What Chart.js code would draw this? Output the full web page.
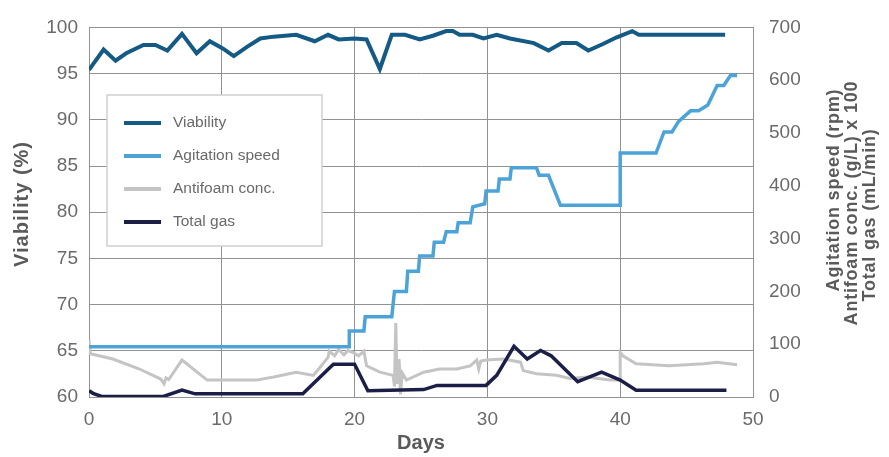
<!DOCTYPE html>
<html>
<head>
<meta charset="utf-8">
<script src="https://cdn.jsdelivr.net/npm/chart.js@4.4.1/dist/chart.umd.min.js"></script>
<style>
  html, body { margin: 0; padding: 0; background: #fff; }
  #c { display: block; }
</style>
</head>
<body>
<canvas id="c" width="889" height="457"></canvas>
<script>
// Culture run: viability (left axis) and process parameters (right axis) vs. days
const seriesNames = ['Viability', 'Agitation speed', 'Antifoam conc.', 'Total gas'];

const viabilityDays = [0, 1.1, 2.0, 2.8, 4.1, 5.0, 5.9, 7.0, 8.1, 9.1, 10.1, 10.9, 11.9, 12.9, 13.9, 15.6, 17.0, 18.0, 18.8, 20.0, 20.9, 21.9, 22.8, 23.8, 24.9, 25.9, 26.9, 27.4, 27.9, 28.9, 29.7, 30.7, 31.7, 33.5, 34.6, 35.6, 36.7, 37.6, 38.7, 39.7, 40.9, 41.4, 47.9];
const viability     = [95.4, 97.6, 96.4, 97.2, 98.1, 98.1, 97.5, 99.3, 97.2, 98.5, 97.7, 96.9, 97.9, 98.8, 99.0, 99.2, 98.5, 99.2, 98.7, 98.8, 98.7, 95.5, 99.2, 99.2, 98.7, 99.1, 99.6, 99.6, 99.2, 99.2, 98.8, 99.2, 98.8, 98.3, 97.5, 98.3, 98.3, 97.5, 98.2, 98.9, 99.6, 99.2, 99.2];

const agitationDays = [0, 19.6, 19.6, 20.7, 20.8, 22.8, 23.0, 23.9, 24.0, 24.8, 24.9, 25.9, 26.0, 26.7, 26.9, 27.7, 27.8, 28.7, 28.9, 29.8, 29.9, 30.8, 30.9, 31.7, 31.8, 33.7, 33.9, 34.6, 35.5, 40.0, 40.0, 42.7, 43.3, 43.9, 44.4, 45.3, 45.9, 46.6, 47.3, 47.8, 48.3, 48.8];
const agitation     = [95, 95, 125, 125, 152, 152, 200, 200, 238, 238, 267, 267, 293, 293, 313, 313, 330, 330, 360, 366, 390, 390, 413, 413, 434, 434, 420, 420, 363, 363, 462, 462, 502, 502, 522, 542, 542, 553, 590, 590, 609, 609];

const antifoamDays = [0, 0.1, 1.8, 3.8, 5.4, 5.65, 5.8, 6.0, 7.0, 8.9, 12.6, 13.9, 15.6, 16.9, 18.0, 18.1, 18.5, 18.8, 19.2, 19.5, 19.9, 20.3, 20.7, 20.9, 21.9, 22.9, 23.0, 23.1, 23.2, 23.35, 23.45, 23.6, 23.9, 25.2, 26.4, 27.7, 28.7, 29.2, 29.35, 29.5, 29.9, 31.2, 32.5, 32.7, 33.7, 35.2, 36.2, 37.5, 39.2, 40.0, 40.0, 40.2, 41.2, 43.7, 46.3, 47.3, 48.8];
const antifoam     = [108, 82, 72, 53, 34, 25, 36, 33, 70, 32, 32, 38, 47, 41, 75, 87, 78, 90, 80, 88, 84, 78, 87, 59, 47, 41, 20, 140, 25, 72, 5, 45, 32, 47, 53, 53, 59, 70, 53, 68, 70, 72, 66, 50, 44, 41, 35, 38, 32, 32, 84, 78, 63, 59, 63, 66, 61];

const gasDays = [0, 0.3, 0.95, 5.6, 7.0, 8.0, 16.1, 18.4, 20.0, 21.0, 25.2, 26.2, 29.9, 30.7, 32.0, 33.0, 34.0, 34.8, 36.8, 38.6, 40.0, 41.2, 48.0];
const totalGas = [12, 7, 1, 1, 13, 6, 6, 62, 62, 12, 14, 22, 22, 41, 96, 72, 88, 78, 29, 47, 32, 13, 13];

const xTicks = [0, 10, 20, 30, 40, 50];
const leftTicks = [60, 65, 70, 75, 80, 85, 90, 95, 100];
const rightTicks = [0, 100, 200, 300, 400, 500, 600, 700];
const rightTitle = ['Agitation speed (rpm)', 'Antifoam conc. (g/L) x 100', 'Total gas (mL/min)'];

const FONT = '"Liberation Sans", Arial, Helvetica, sans-serif';
const colors = ['#145a85', '#4ba3d8', '#c4c4c4', '#1b1f48'];
const gridColor = '#929292';

const pts = (xs, ys) => xs.map((x, i) => ({ x, y: ys[i] }));

const datasets = [
  { label: seriesNames[0], data: pts(viabilityDays, viability), yAxisID: 'y',  borderColor: colors[0], borderWidth: 4,   order: 1 },
  { label: seriesNames[1], data: pts(agitationDays, agitation), yAxisID: 'y2', borderColor: colors[1], borderWidth: 3.5, order: 3 },
  { label: seriesNames[2], data: pts(antifoamDays, antifoam),   yAxisID: 'y2', borderColor: colors[2], borderWidth: 3,   order: 4 },
  { label: seriesNames[3], data: pts(gasDays, totalGas),        yAxisID: 'y2', borderColor: colors[3], borderWidth: 3.5, order: 2 }
].map(d => Object.assign(d, { pointRadius: 0, fill: false, tension: 0, borderJoinStyle: 'miter', borderCapStyle: 'butt' }));

// Titles and boxed legend drawn on top of the chart
const decorations = {
  id: 'decorations',
  afterDraw(chart) {
    const ctx = chart.ctx;
    const a = chart.chartArea;
    ctx.save();

    // legend box
    const bx = 107, by = 95, bw = 215, bh = 151;
    ctx.fillStyle = '#fff';
    ctx.fillRect(bx, by, bw, bh);
    ctx.strokeStyle = '#cfcfcf';
    ctx.lineWidth = 1.5;
    ctx.strokeRect(bx, by, bw, bh);
    ctx.font = '15.5px ' + FONT;
    ctx.textBaseline = 'middle';
    ctx.textAlign = 'left';
    chart.data.datasets.forEach((ds, i) => {
      const y = 123 + i * 33;
      ctx.strokeStyle = ds.borderColor;
      ctx.lineWidth = 4;
      ctx.beginPath();
      ctx.moveTo(124, y);
      ctx.lineTo(161, y);
      ctx.stroke();
      ctx.fillStyle = '#6a6a6a';
      ctx.fillText(ds.label, 173, y);
    });

    // axis titles
    ctx.fillStyle = '#5a5a5a';
    ctx.font = 'bold 20px ' + FONT;
    ctx.textAlign = 'center';
    ctx.textBaseline = 'middle';
    ctx.fillText('Days', (a.left + a.right) / 2, 443);

    ctx.save();
    ctx.letterSpacing = '1px';
    ctx.translate(22, 204);
    ctx.rotate(-Math.PI / 2);
    ctx.fillText('Viability (%)', 0, 0);
    ctx.restore();

    ctx.font = 'bold 18px ' + FONT;
    ctx.letterSpacing = '0.8px';
    const lineX = [834, 852, 870];
    const lineY = [190, 203, 215];
    rightTitle.forEach((t, i) => {
      ctx.save();
      ctx.translate(lineX[i], lineY[i]);
      ctx.rotate(-Math.PI / 2);
      ctx.fillText(t, 0, 0);
      ctx.restore();
    });

    ctx.restore();
  }
};

new Chart(document.getElementById('c'), {
  type: 'line',
  data: { datasets },
  plugins: [decorations],
  options: {
    responsive: false,
    devicePixelRatio: 1,
    animation: false,
    layout: { padding: { top: 20, left: 0, right: 0, bottom: 0 } },
    plugins: { legend: { display: false }, tooltip: { enabled: false } },
    scales: {
      x: {
        type: 'linear',
        min: 0, max: 50,
        afterBuildTicks: s => { s.ticks = xTicks.map(v => ({ value: v })); },
        afterFit: s => { s.height = 60; },
        ticks: { color: '#6a6a6a', font: { family: FONT, size: 19 }, padding: 11, maxRotation: 0 },
        grid: { color: gridColor, lineWidth: 1, drawTicks: false },
        border: { color: gridColor }
      },
      y: {
        position: 'left',
        min: 60, max: 100,
        afterBuildTicks: s => { s.ticks = leftTicks.map(v => ({ value: v })); },
        afterFit: s => { s.width = 89; },
        ticks: { color: '#6a6a6a', font: { family: FONT, size: 19 }, padding: 11 },
        grid: { color: gridColor, lineWidth: 1, drawTicks: false },
        border: { color: gridColor }
      },
      y2: {
        position: 'right',
        min: 0, max: 700,
        afterBuildTicks: s => { s.ticks = rightTicks.map(v => ({ value: v })); },
        afterFit: s => { s.width = 136; },
        ticks: { color: '#6a6a6a', font: { family: FONT, size: 19 }, padding: 16 },
        grid: { drawOnChartArea: false, drawTicks: false },
        border: { color: gridColor }
      }
    }
  }
});
</script>
</body>
</html>
